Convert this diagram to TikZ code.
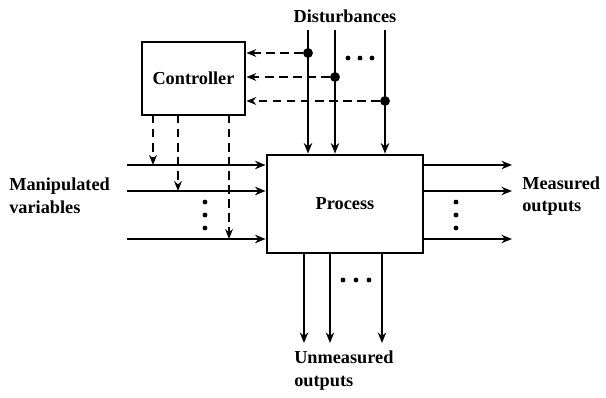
\documentclass[tikz,border=0pt]{standalone}
\usepackage{fontspec}
\setmainfont{Liberation Serif}
\usetikzlibrary{positioning, arrows.meta}
\begin{document}
\begin{tikzpicture}[x=0.025cm, y=-0.025cm, font=\fontsize{13}{16}\selectfont\bfseries]
        % Styles
        \tikzstyle{block} = [rectangle, draw=black, line width=2pt, inner sep=0pt]
        \tikzstyle{arrow} = [line width=2pt,->,>={Stealth[length=7.5pt,width=6pt]}]
        \tikzstyle{dasharrow} = [line width=2pt,dash pattern=on 6pt off 4pt,->,>={Stealth[length=7pt,width=5.5pt]}]
        \tikzstyle{tap} = [circle, fill=black, inner sep=0pt, minimum size=7pt]
        \tikzstyle{dot} = [circle, fill=black, inner sep=0pt, minimum size=3.4pt]
        \tikzstyle{label} = [align=left, inner sep=0pt]

        \useasboundingbox (0,0) rectangle (606,398);

        % Blocks
        \node (ctrl) [block, minimum width=2.575cm, minimum height=1.825cm] at (193.5,78.5) {Controller};
        \node (proc) [block, minimum width=3.9cm, minimum height=2.45cm] at (345,204) {Process};

        % Disturbances
        \node (dist) [label] at (345,16) {Disturbances};
        \coordinate (d1) at (308,30);
        \coordinate (d2) at (335,30);
        \coordinate (d3) at (385,30);
        \draw [arrow] (d1) -- (d1 |- proc.north);
        \draw [arrow] (d2) -- (d2 |- proc.north);
        \draw [arrow] (d3) -- (d3 |- proc.north);
        \node (t1) [tap] at (308,53) {};
        \node (t2) [tap] at (335,77) {};
        \node (t3) [tap] at (385,101) {};
        \draw [dasharrow] (t1) -- (t1 -| ctrl.east);
        \draw [dasharrow] (t2) -- (t2 -| ctrl.east);
        \draw [dasharrow] (t3) -- (t3 -| ctrl.east);
        \foreach \x in {348,360,372} \node [dot] at (\x,58) {};

        % Manipulated variables
        \node (mv) [label, anchor=west] at (9,196) {Manipulated\\variables};
        \coordinate (m1) at (127,165);
        \coordinate (m2) at (127,191);
        \coordinate (m3) at (127,239);
        \draw [arrow] (m1) -- (m1 -| proc.west);
        \draw [arrow] (m2) -- (m2 -| proc.west);
        \draw [arrow] (m3) -- (m3 -| proc.west);
        \foreach \y in {202,215,228} \node [dot] at (205,\y) {};

        % Controller outputs
        \coordinate (c1) at (153,115);
        \coordinate (c2) at (178,115);
        \coordinate (c3) at (229,115);
        \draw [dasharrow] (c1) -- (c1 |- m1);
        \draw [dasharrow] (c2) -- (c2 |- m2);
        \draw [dasharrow] (c3) -- (c3 |- m3);

        % Measured outputs
        \node (mo) [label, anchor=west] at (522,196) {Measured\\outputs};
        \coordinate (y1) at (512,165);
        \coordinate (y2) at (512,191);
        \coordinate (y3) at (512,239);
        \draw [arrow] (y1 -| proc.east) -- (y1);
        \draw [arrow] (y2 -| proc.east) -- (y2);
        \draw [arrow] (y3 -| proc.east) -- (y3);
        \foreach \y in {202,215,228} \node [dot] at (456,\y) {};

        % Unmeasured outputs
        \node (uo) [label, anchor=north west] at (294,351) {Unmeasured\\outputs};
        \coordinate (u1) at (304,343);
        \coordinate (u2) at (330,343);
        \coordinate (u3) at (382,343);
        \draw [arrow] (u1 |- proc.south) -- (u1);
        \draw [arrow] (u2 |- proc.south) -- (u2);
        \draw [arrow] (u3 |- proc.south) -- (u3);
        \foreach \x in {343,356,369} \node [dot] at (\x,280) {};

    \end{tikzpicture}
\end{document}
